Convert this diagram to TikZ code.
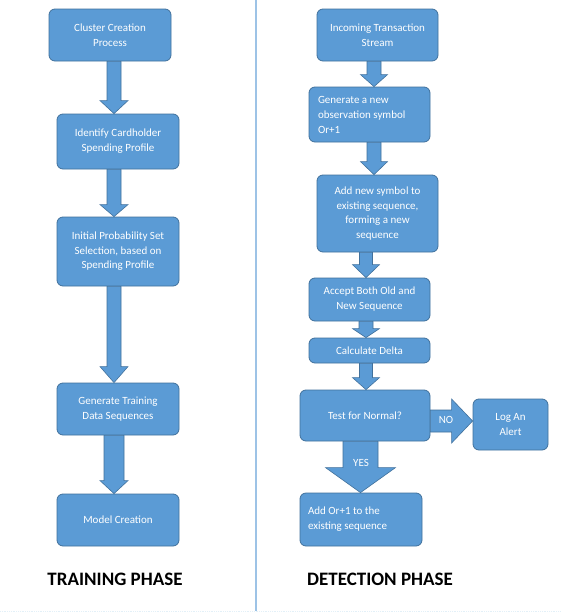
\documentclass[tikz,border=0pt]{standalone}
\usepackage{fontspec}
\setmainfont{Carlito}
\usetikzlibrary{calc}
\definecolor{boxfill}{HTML}{5B9BD5}
\definecolor{boxline}{HTML}{41719C}
\definecolor{divline}{HTML}{9DC3E6}
\definecolor{botline}{HTML}{E3F0F8}
\tikzset{
  procbox/.style={draw=boxline, fill=boxfill, line width=0.8pt, rounded corners=6pt,
    text=white, font=\fontsize{11}{15}\selectfont, align=center, inner sep=2pt},
  blockarrow/.style={draw=boxline, fill=boxfill, line width=0.6pt},
  phasetitle/.style={font=\fontsize{19}{22}\selectfont\bfseries, text=black},
  armlabel/.style={text=white, font=\fontsize{11}{13}\selectfont}
}
% down arrow: #1 from node, #2 to node, #3 x centre, #4 shaft half width, #5 head half width, #6 head length
\newcommand\dnarrow[6]{%
  \path[blockarrow] let \p1=(#1.south), \p2=(#2.north) in
    (#3pt-#4pt,\y1) -- (#3pt+#4pt,\y1) -- (#3pt+#4pt,\y2+#6pt) -- (#3pt+#5pt,\y2+#6pt)
    -- (#3pt,\y2) -- (#3pt-#5pt,\y2+#6pt) -- (#3pt-#4pt,\y2+#6pt) -- cycle;}
\begin{document}
\begin{tikzpicture}[x=1pt,y=-1pt]
\useasboundingbox (0,0) rectangle (560,613);
\fill[white] (0,0) rectangle (560,613);
% divider
\draw[divline, line width=1.3pt] (256,0) coordinate (d1) -- (256,611) coordinate (d2);
\draw[botline, line width=0.8pt, densely dotted] (0,611) coordinate (b1) -- (560,611) coordinate (b2);

% training phase
\node[procbox, minimum width=122pt, minimum height=52pt] (L1) at (110,35) {Cluster Creation\\Process};
\node[procbox, minimum width=122pt, minimum height=55pt] (L2) at (118,141.5) {Identify Cardholder\\Spending Profile};
\node[procbox, minimum width=122pt, minimum height=69pt, font=\fontsize{11}{14.5}\selectfont] (L3) at (118,251.5) {Initial Probability Set\\Selection, based on\\Spending Profile};
\node[procbox, minimum width=122pt, minimum height=52pt] (L4) at (118,409) {Generate Training\\Data Sequences};
\node[procbox, minimum width=122pt, minimum height=52pt] (L5) at (118,520) {Model Creation};
\dnarrow{L1}{L2}{114}{7}{14}{13}
\dnarrow{L2}{L3}{114}{7}{14}{12}
\dnarrow{L3}{L4}{114}{7}{14}{16}
\dnarrow{L4}{L5}{114}{10}{14}{13}
\node[phasetitle] (T1) at (115,579) {TRAINING PHASE};

% detection phase
\node[procbox, minimum width=121pt, minimum height=52pt] (R1) at (377.5,35) {Incoming Transaction\\Stream};
\node[procbox, minimum width=121pt, minimum height=55pt, text width=103pt, inner xsep=9pt, align=flush left] (R2) at (369.5,114.5) {Generate a new\\observation symbol\\Or+1};
\node[procbox, minimum width=121pt, minimum height=77pt, font=\fontsize{11}{14.5}\selectfont] (R3) at (377.5,213.5) {Add new symbol to\\existing sequence,\\forming a new\\sequence};
\node[procbox, minimum width=121pt, minimum height=43pt] (R4) at (369.5,299.5) {Accept Both Old and\\New Sequence};
\node[procbox, minimum width=121pt, minimum height=25pt] (R5) at (369.5,350.5) {Calculate Delta};
\node[procbox, minimum width=130pt, minimum height=51pt] (R6) at (365,415.5) {Test for Normal?};
\node[procbox, minimum width=75pt, minimum height=51pt] (R7) at (510.5,424.5) {Log An\\Alert};
\node[procbox, minimum width=122pt, minimum height=53pt, text width=106pt, inner xsep=8pt, align=flush left] (R8) at (361,519.5) {Add Or+1 to the\\existing sequence};
\dnarrow{R1}{R2}{374}{7}{13.5}{12}
\dnarrow{R2}{R3}{374}{7}{13.5}{13}
\dnarrow{R3}{R4}{366}{6.5}{13.5}{13}
\dnarrow{R4}{R5}{366}{7}{13.5}{9}
\dnarrow{R5}{R6}{366}{6.5}{13.5}{12}
\dnarrow{R6}{R8}{360.5}{17.5}{35}{25}
% NO arrow
\path[blockarrow] let \p1=(R6.east), \p2=(R7.west) in
  (\x1,410) -- (\x2-21pt,410) -- (\x2-21pt,399) -- (\x2,421) -- (\x2-21pt,443)
  -- (\x2-21pt,432) -- (\x1,432) -- cycle;
\node[armlabel] (no) at (446,420) {NO};
\node[armlabel] (yes) at (361,463) {YES};
\node[phasetitle] (T2) at (380,579) {DETECTION PHASE};
\end{tikzpicture}
\end{document}
